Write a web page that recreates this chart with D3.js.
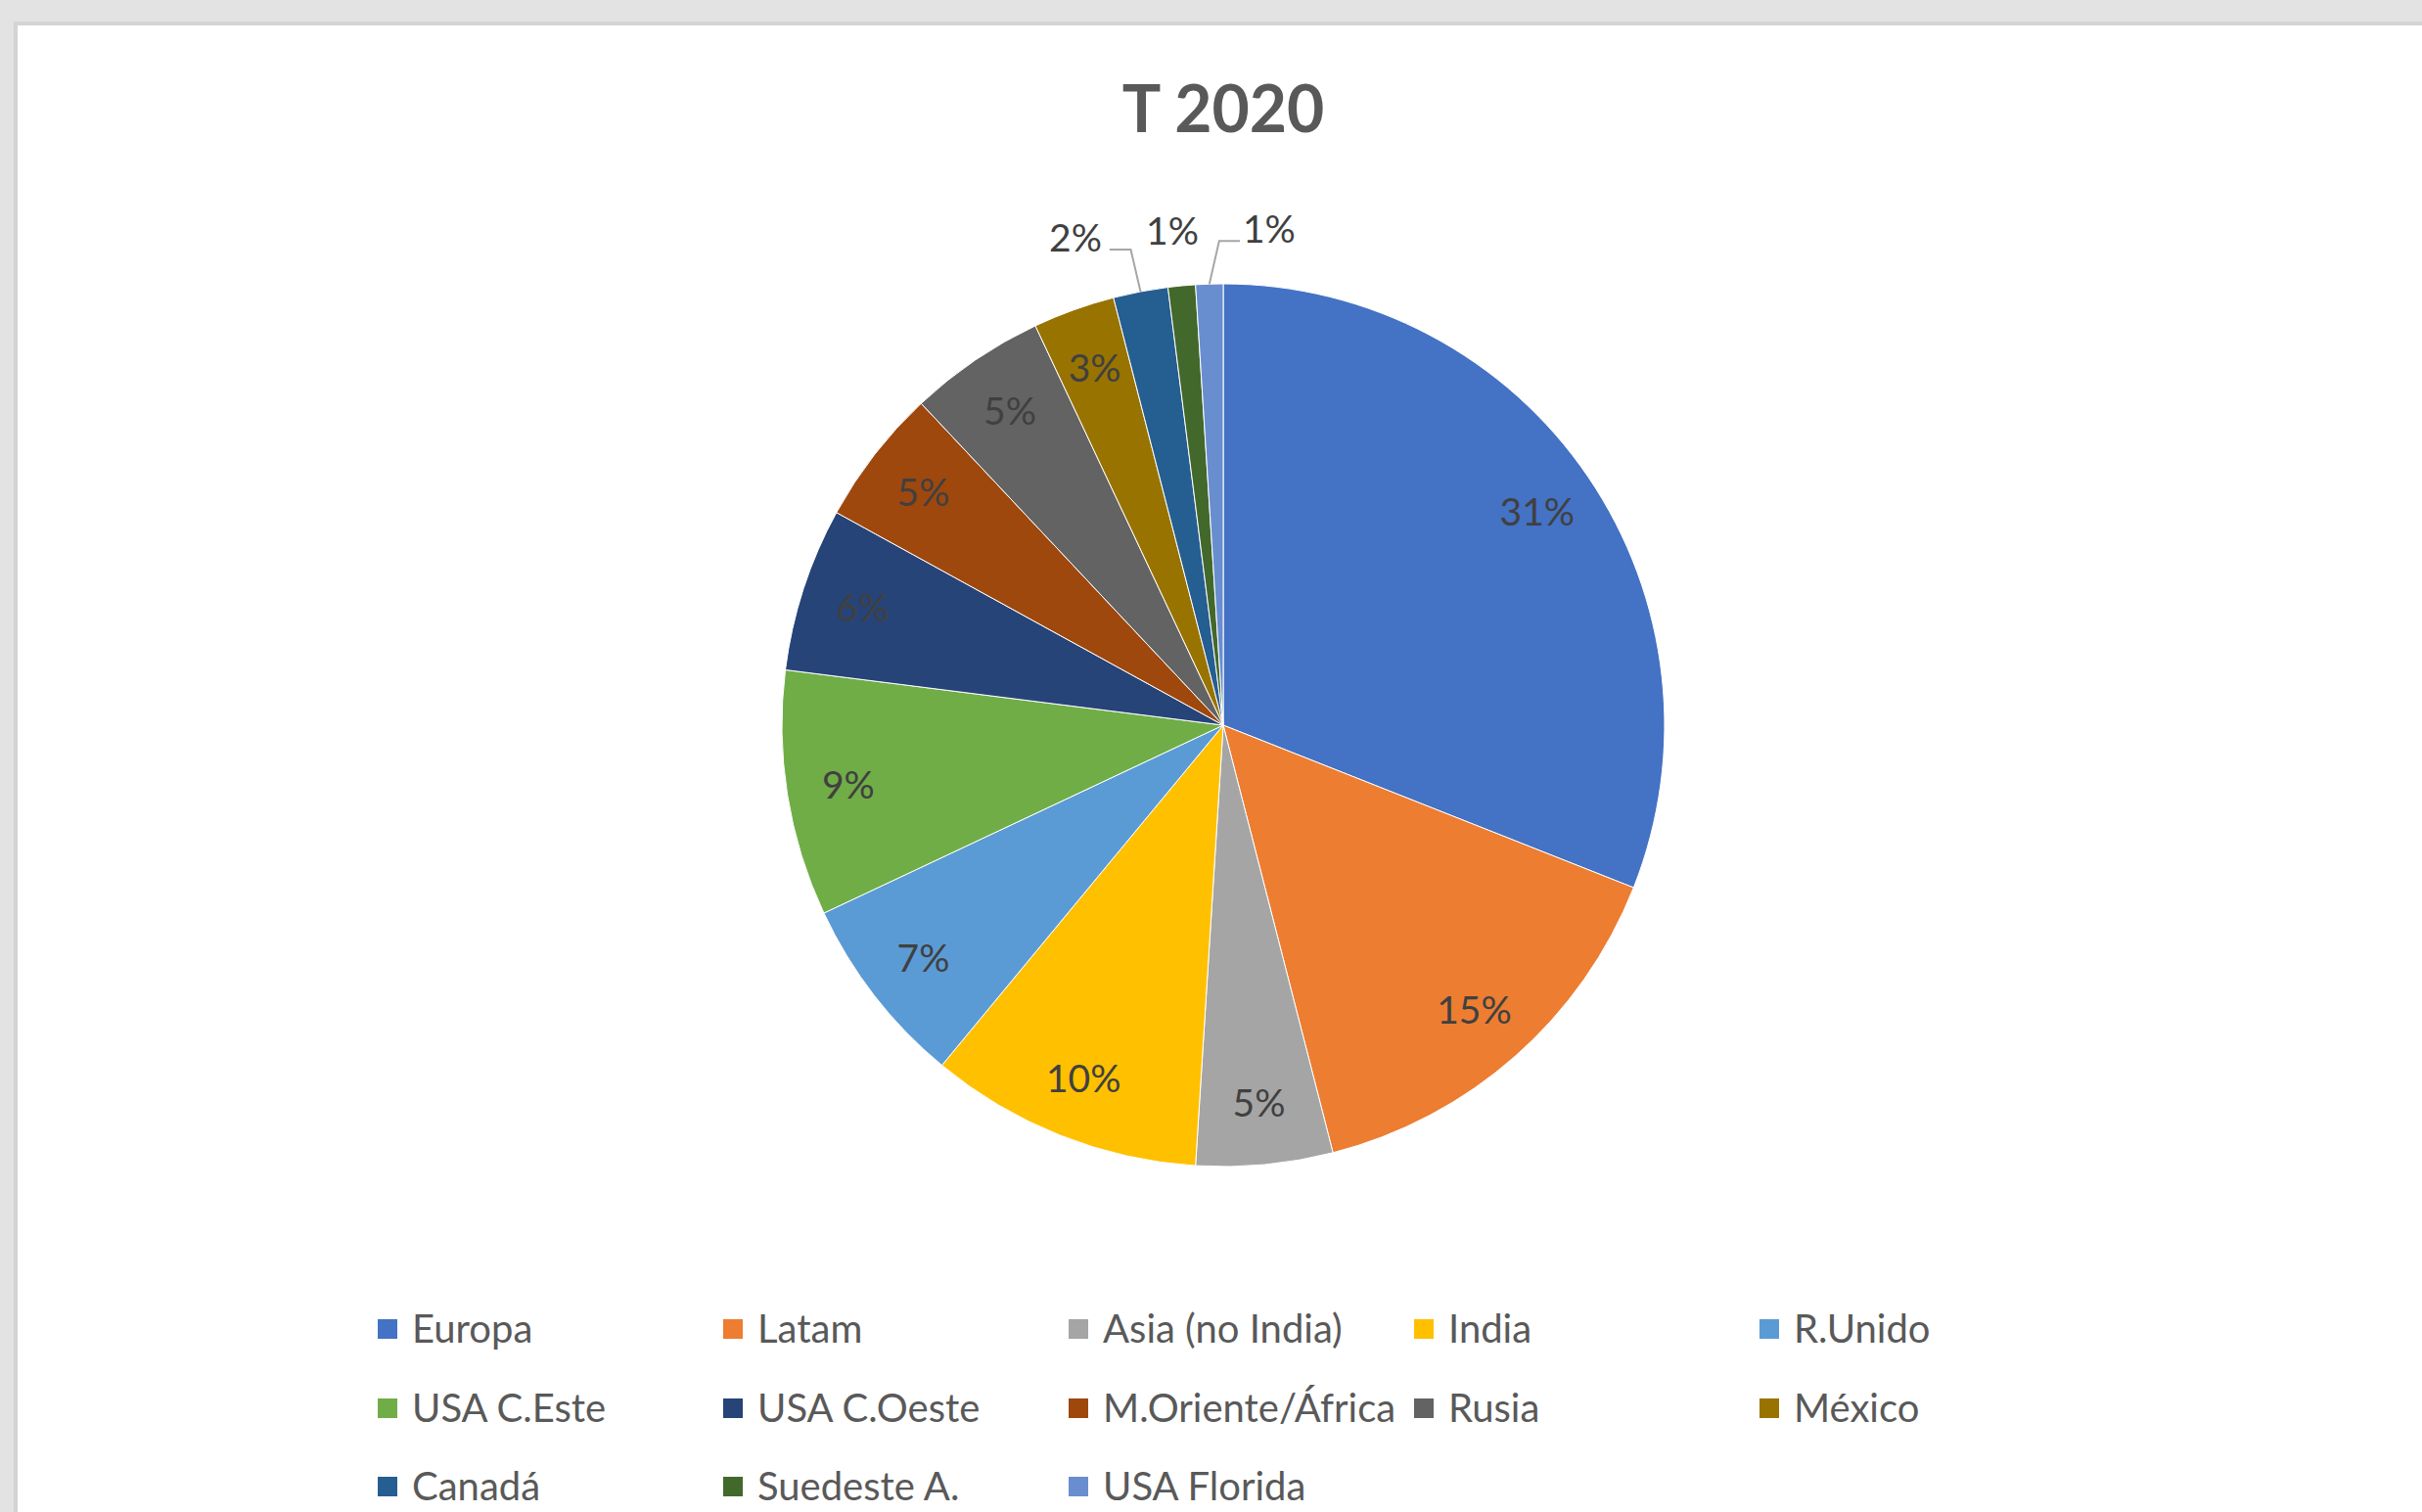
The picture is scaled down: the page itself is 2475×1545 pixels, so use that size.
<!DOCTYPE html>
<html><head><meta charset="utf-8">
<script src="https://cdn.jsdelivr.net/npm/d3@7"></script>
<style>body{margin:0;background:#e2e3e2;} svg{display:block;}</style>
</head><body><svg id="c" width="2475" height="1545"></svg>
<script>
const chartTitle = "T 2020";
const categories = ["Europa","Latam","Asia (no India)","India","R.Unido","USA C.Este","USA C.Oeste","M.Oriente/África","Rusia","México","Canadá","Suedeste A.","USA Florida"];
const values = [31,15,5,10,7,9,6,5,5,3,2,1,1];
const colors = ["#4472C4","#ED7D31","#A5A5A5","#FFC000","#5B9BD5","#70AD47","#264478","#9E480E","#636363","#997300","#255E91","#43682B","#698ED0"];

const W = 2475, H = 1545;
const svg = d3.select("#c");
const FONT = "Lato, 'Open Sans', sans-serif";

// background / chart area
svg.append("rect").attr("x",0).attr("y",0).attr("width",W).attr("height",H).attr("fill","#e2e3e2");
svg.append("rect").attr("x",16).attr("y",24).attr("width",W+20).attr("height",H+20)
  .attr("fill","#ffffff").attr("stroke","#d4d4d4").attr("stroke-width",4);

// title
svg.append("text").attr("x",1250).attr("y",135).attr("text-anchor","middle")
  .attr("font-family",FONT).attr("font-weight","bold").attr("font-size",66)
  .attr("fill","#595959").text(chartTitle);

const cx = 1250, cy = 741, R = 451;
const data = categories.map((c,i)=>({name:c, value:values[i], color:colors[i]}));
const total = d3.sum(values);
const pie = d3.pie().sort(null).value(d=>d.value);
const arcs = pie(data);
const arc = d3.arc().innerRadius(0).outerRadius(R);

const g = svg.append("g").attr("transform",`translate(${cx},${cy})`);
g.selectAll("path.slice").data(arcs).join("path").attr("class","slice")
  .attr("d",arc).attr("fill",d=>d.data.color)
  .attr("stroke","#ffffff").attr("stroke-width",1).attr("stroke-linejoin","round");

const pct = d => Math.round(d.data.value/total*100) + "%";
const mid = d => (d.startAngle + d.endAngle)/2;
const isSmall = d => d.data.value/total < 0.025;

// inside labels
const labelR = 0.86*R;
g.selectAll("text.in").data(arcs.filter(d=>!isSmall(d))).join("text").attr("class","in")
  .attr("x",d=>labelR*Math.sin(mid(d))).attr("y",d=>-labelR*Math.cos(mid(d)))
  .attr("dy","0.36em").attr("text-anchor","middle")
  .attr("font-family",FONT).attr("font-size",39).attr("fill","#404040").text(pct);

// outside labels for small slices
const small = arcs.filter(isSmall);
const outR = R + 56;
const edgeX = small.map(d=>R*Math.sin(mid(d)));
const meanX = d3.mean(edgeX) - 5;
const spacing = 99;
small.forEach((d,i)=>{
  const a = mid(d);
  const ex = R*Math.sin(a), ey = -R*Math.cos(a);
  const lx = meanX + (i - (small.length-1)/2)*spacing;
  const ly = -outR*Math.cos(a);
  const t = g.append("text").attr("x",lx).attr("y",ly).attr("dy","0.36em")
    .attr("text-anchor","middle").attr("font-family",FONT).attr("font-size",39)
    .attr("fill","#404040").text(pct(d));
  if (Math.abs(lx-ex) > 25) {
    const bb = t.node().getBBox();
    const s = Math.sign(lx-ex);
    const elbowX = ex + s*10, elbowY = ly + 12;
    const endX = s < 0 ? bb.x + bb.width + 8 : bb.x - 3;
    g.append("path").attr("d",`M${ex},${ey}L${elbowX},${elbowY}L${endX},${elbowY}`)
      .attr("fill","none").attr("stroke","#a6a6a6").attr("stroke-width",2);
  }
});

// legend
const cols = 5, colW = 353, lx0 = 386, rowY = [1358,1439,1519];
const leg = svg.append("g");
data.forEach((d,i)=>{
  const c = i % cols, r = Math.floor(i/cols);
  const x = lx0 + c*colW, y = rowY[r];
  leg.append("rect").attr("x",x).attr("y",y-10).attr("width",20).attr("height",20).attr("fill",d.color);
  leg.append("text").attr("x",x+35).attr("y",y).attr("dy","0.36em")
    .attr("font-family",FONT).attr("font-size",40).attr("fill","#595959").text(d.name);
});
</script></body></html>
